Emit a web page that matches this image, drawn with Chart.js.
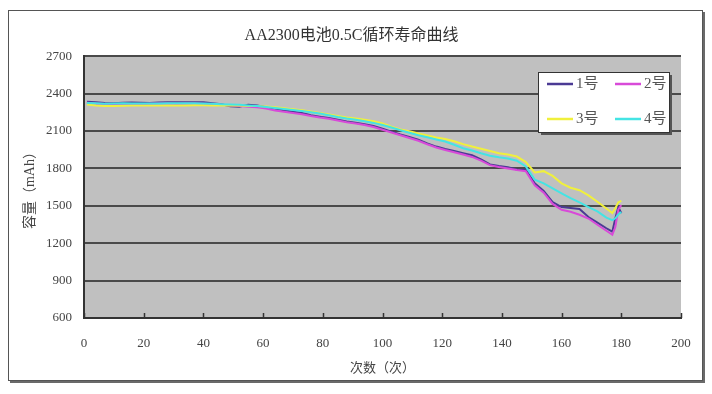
<!DOCTYPE html>
<html>
<head>
<meta charset="utf-8">
<script src="https://cdn.jsdelivr.net/npm/chart.js@4.4.0/dist/chart.umd.min.js"></script>
<style>
  html, body { margin: 0; padding: 0; background: #fff; }
  #wrap { width: 712px; height: 394px; }
</style>
</head>
<body>
<div id="wrap"><canvas id="myChart" width="712" height="394"></canvas></div>
<script>
// cycle numbers where capacity was read
const cycles = [1, 4, 7, 10, 13, 16, 19, 22, 25, 28,
  31, 34, 37, 40, 43, 46, 49, 52, 55, 58,
  61, 64, 67, 70, 73, 76, 79, 82, 85, 88,
  91, 94, 97, 100, 103, 106, 109, 112, 115, 118,
  121, 124, 127, 130, 133, 136, 139, 142, 145, 148,
  151, 154, 157, 160, 163, 166, 169, 172, 175, 177,
  178, 179, 180];

// capacity (mAh) per cell
const cap1 = [2335, 2330, 2325, 2322, 2326, 2328, 2326, 2325, 2328, 2330,
  2331, 2330, 2330, 2330, 2322, 2315, 2298, 2295, 2310, 2304,
  2290, 2280, 2266, 2254, 2244, 2226, 2215, 2204, 2190, 2176,
  2166, 2155, 2140, 2118, 2094, 2072, 2052, 2030, 2000, 1975,
  1955, 1940, 1922, 1905, 1872, 1832, 1820, 1810, 1792, 1790,
  1680, 1620, 1530, 1490, 1482, 1475, 1410, 1365, 1320, 1292,
  1400, 1490, 1440];
const cap2 = [2326, 2320, 2316, 2312, 2310, 2312, 2315, 2318, 2320, 2320,
  2318, 2320, 2320, 2318, 2314, 2310, 2304, 2300, 2295, 2290,
  2280, 2264, 2254, 2244, 2234, 2220, 2208, 2198, 2184, 2170,
  2160, 2148, 2132, 2110, 2088, 2066, 2044, 2022, 1994, 1968,
  1948, 1930, 1912, 1892, 1862, 1826, 1812, 1800, 1788, 1778,
  1665, 1605, 1515, 1468, 1452, 1428, 1398, 1348, 1300, 1268,
  1330, 1470, 1505];
const cap3 = [2312, 2305, 2300, 2300, 2302, 2305, 2305, 2305, 2305, 2305,
  2305, 2305, 2306, 2306, 2305, 2305, 2305, 2304, 2300, 2300,
  2296, 2290, 2282, 2275, 2266, 2256, 2245, 2232, 2220, 2208,
  2200, 2190, 2178, 2160, 2135, 2112, 2098, 2080, 2064, 2048,
  2036, 2018, 1995, 1975, 1958, 1940, 1922, 1912, 1895, 1852,
  1768, 1778, 1740, 1680, 1645, 1625, 1584, 1532, 1478, 1442,
  1480, 1528, 1540];
const cap4 = [2325, 2322, 2318, 2320, 2322, 2320, 2320, 2320, 2320, 2322,
  2322, 2322, 2322, 2320, 2318, 2315, 2312, 2310, 2305, 2300,
  2292, 2285, 2276, 2268, 2260, 2250, 2240, 2226, 2212, 2200,
  2190, 2178, 2165, 2148, 2128, 2106, 2086, 2066, 2050, 2032,
  2016, 1990, 1962, 1944, 1922, 1902, 1890, 1880, 1862, 1815,
  1710, 1680, 1640, 1600, 1562, 1528, 1490, 1455, 1405, 1385,
  1400, 1430, 1450];

const seriesNames = ['1号', '2号', '3号', '4号'];
const seriesColors = ['#4b3a94', '#d84ad8', '#f0f03c', '#44e4e4'];
const seriesData = [cap1, cap2, cap3, cap4];

const fontFamily = "'Liberation Serif', 'Noto Sans CJK SC', serif";
Chart.defaults.font.family = fontFamily;
Chart.defaults.color = '#444';

// white page, outer frame and grey plot area
const framePlugin = {
  id: 'frame',
  beforeDraw(chart) {
    const ctx = chart.ctx;
    const a = chart.chartArea;
    ctx.save();
    ctx.fillStyle = '#fff';
    ctx.fillRect(0, 0, chart.width, chart.height);
    ctx.fillStyle = '#6a6a6a';
    ctx.fillRect(10, 12, 695, 371);
    ctx.fillStyle = '#fff';
    ctx.fillRect(8, 10, 694, 370);
    ctx.strokeStyle = '#555';
    ctx.lineWidth = 1;
    ctx.strokeRect(8.5, 10.5, 694, 370);
    ctx.fillStyle = '#c0c0c0';
    ctx.fillRect(a.left, a.top, a.right - a.left, a.bottom - a.top);
    ctx.restore();
  },
  afterDraw(chart) {
    const ctx = chart.ctx;
    const a = chart.chartArea;
    const xs = chart.scales.x;
    ctx.save();
    // inward tick marks on the x axis
    ctx.strokeStyle = '#333';
    ctx.lineWidth = 1.5;
    xs.ticks.forEach(t => {
      const px = Math.round(xs.getPixelForValue(t.value)) + 0.5;
      ctx.beginPath();
      ctx.moveTo(px, a.bottom);
      ctx.lineTo(px, a.bottom - 5);
      ctx.stroke();
    });
    // legend box (2 x 2)
    const bx = 538, by = 72, bw = 131, bh = 60;
    ctx.fillStyle = '#555';
    ctx.fillRect(bx + 3, by + 3, bw, bh);
    ctx.fillStyle = '#fff';
    ctx.fillRect(bx, by, bw, bh);
    ctx.strokeStyle = '#333';
    ctx.lineWidth = 1;
    ctx.strokeRect(bx + 0.5, by + 0.5, bw, bh);
    ctx.font = '15px ' + fontFamily;
    ctx.textBaseline = 'middle';
    chart.data.datasets.forEach((ds, i) => {
      const x0 = bx + 9 + (i % 2) * 68;
      const y0 = by + 12 + Math.floor(i / 2) * 35;
      ctx.strokeStyle = ds.borderColor;
      ctx.lineWidth = 2.5;
      ctx.beginPath();
      ctx.moveTo(x0, y0);
      ctx.lineTo(x0 + 26, y0);
      ctx.stroke();
      ctx.fillStyle = '#555';
      ctx.fillText(ds.label, x0 + 29, y0);
    });
    ctx.restore();
  }
};

const datasets = seriesNames.map((name, i) => ({
  label: name,
  data: cycles.map((c, j) => ({ x: c, y: seriesData[i][j] })),
  borderColor: seriesColors[i],
  backgroundColor: seriesColors[i],
  borderWidth: 2,
  pointRadius: 0,
  tension: 0,
  order: 4 - i
}));

new Chart(document.getElementById('myChart'), {
  type: 'line',
  data: { datasets: datasets },
  plugins: [framePlugin],
  options: {
    responsive: false,
    animation: false,
    devicePixelRatio: 1,
    layout: { padding: { left: 22, right: 31, top: 0, bottom: 14 } },
    plugins: {
      legend: { display: false },
      tooltip: { enabled: false },
      title: {
        display: true,
        text: 'AA2300电池0.5C循环寿命曲线',
        color: '#333',
        font: { size: 16, weight: 'normal' },
        padding: { top: 26, bottom: 11 }
      }
    },
    scales: {
      x: {
        type: 'linear',
        min: 0,
        max: 200,
        ticks: { stepSize: 20, padding: 18, maxRotation: 0, autoSkip: false, font: { size: 13 } },
        grid: { display: false, drawTicks: false },
        border: { display: true, color: '#333', width: 2 },
        title: { display: true, text: '次数（次）', color: '#444', font: { size: 13 }, padding: { top: 0, bottom: 4 } },
        afterFit(scale) { scale.height = 62; }
      },
      y: {
        min: 600,
        max: 2700,
        ticks: { stepSize: 300, padding: 12, font: { size: 13 }, callback: v => String(v) },
        grid: { color: '#4a4a4a', lineWidth: 2, drawTicks: false },
        border: { display: true, color: '#333', width: 2 },
        title: { display: true, text: '容量（mAh）', color: '#444', font: { size: 14 }, padding: { top: 0, bottom: 8 } },
        afterFit(scale) { scale.width = 62; }
      }
    }
  }
});
</script>
</body>
</html>
